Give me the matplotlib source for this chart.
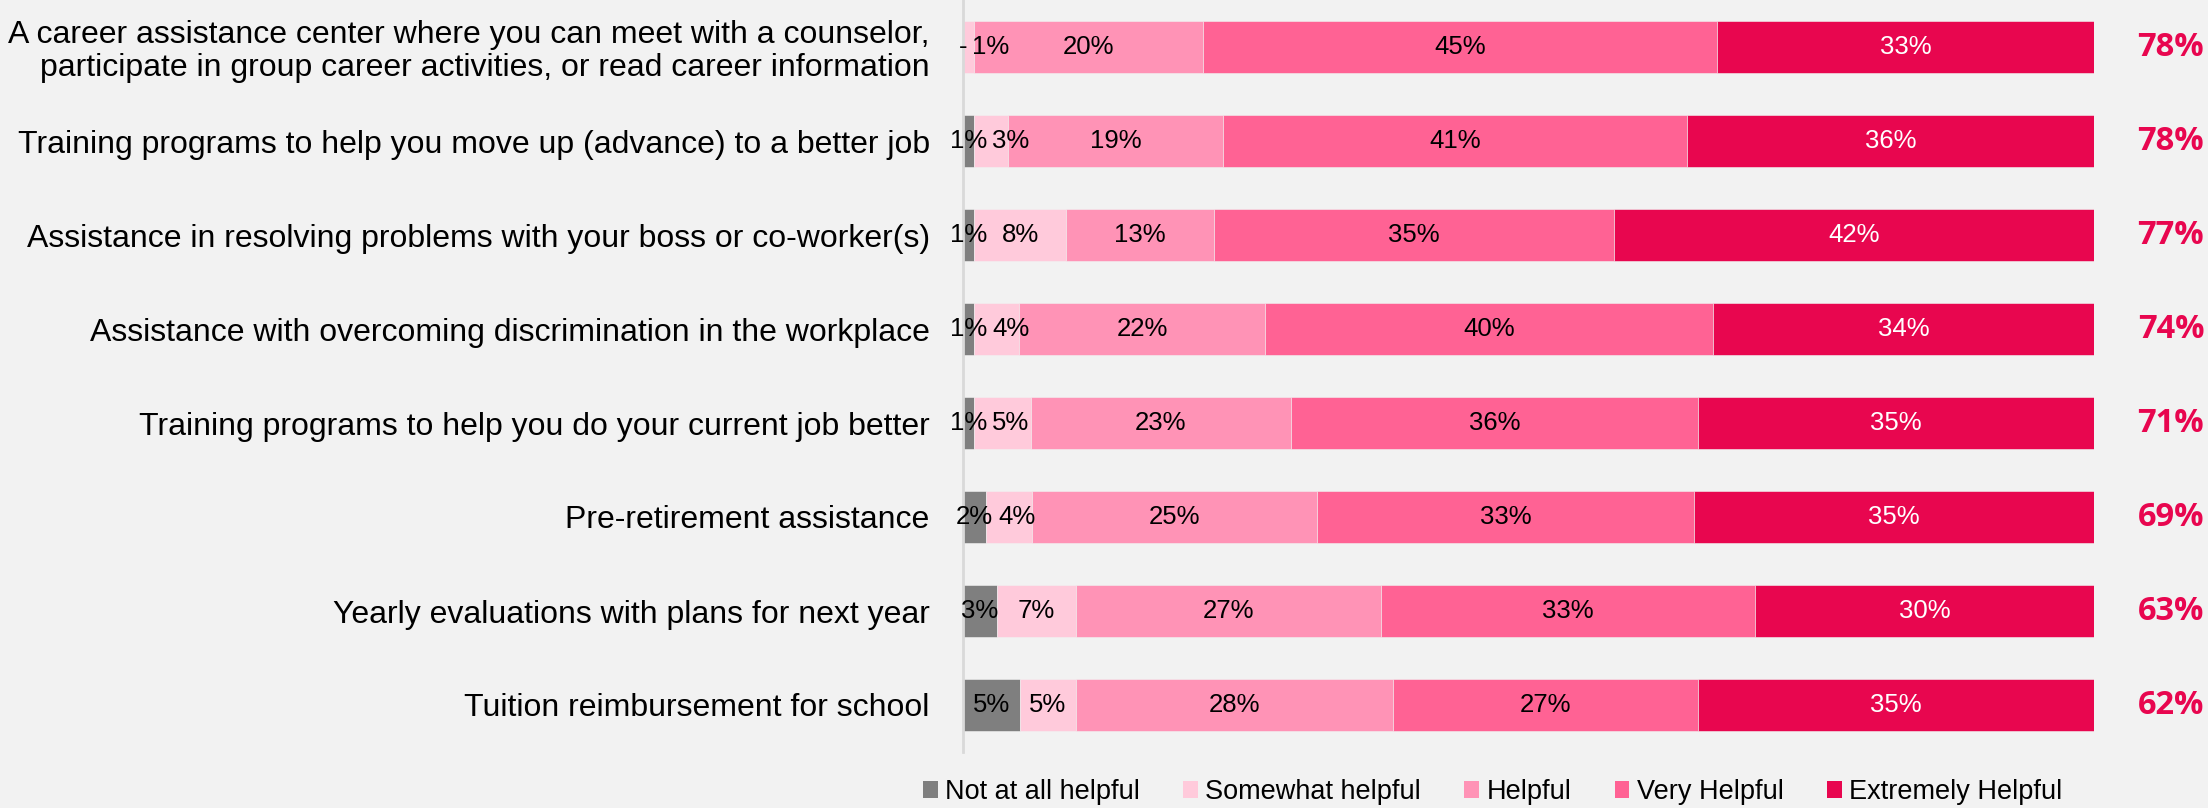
import matplotlib
matplotlib.use("Agg")
import matplotlib.pyplot as plt
from matplotlib.patches import Patch

categories = [
    "A career assistance center where you can meet with a counselor,\nparticipate in group career activities, or read career information",
    "Training programs to help you move up (advance) to a better job",
    "Assistance in resolving problems with your boss or co-worker(s)",
    "Assistance with overcoming discrimination in the workplace",
    "Training programs to help you do your current job better",
    "Pre-retirement assistance",
    "Yearly evaluations with plans for next year",
    "Tuition reimbursement for school",
]
series_names = ["Not at all helpful", "Somewhat helpful", "Helpful", "Very Helpful", "Extremely Helpful"]
not_at_all = [0, 1, 1, 1, 1, 2, 3, 5]
somewhat = [1, 3, 8, 4, 5, 4, 7, 5]
helpful = [20, 19, 13, 22, 23, 25, 27, 28]
very = [45, 41, 35, 40, 36, 33, 33, 27]
extremely = [33, 36, 42, 34, 35, 35, 30, 35]
top2_totals = [78, 78, 77, 74, 71, 69, 63, 62]

colors = ["#7F7F7F", "#FFCADB", "#FF93B6", "#FF6294", "#E8064F"]
text_colors = ["black", "black", "black", "black", "white"]
bg = "#F2F2F2"

plt.rcParams["font.family"] = ["Liberation Sans", "DejaVu Sans"]

fig = plt.figure(figsize=(22.08, 8.08), dpi=100, facecolor=bg)
ax = fig.add_axes([963 / 2208, 56 / 808, (2094 - 963) / 2208, 752 / 808])
ax.set_facecolor(bg)

series = [not_at_all, somewhat, helpful, very, extremely]
n = len(categories)
ypos = list(range(n))
bar_h = 0.553

label_sets = []
for i in range(n):
    row = [s[i] for s in series]
    total = sum(row)
    left = 0.0
    row_labels = []
    for k, v in enumerate(row):
        w = v / total
        ax.barh(ypos[i], w, left=left, height=bar_h, color=colors[k],
                edgecolor=bg, linewidth=0.4)
        txt = f"{v}%" if v > 0 else "-"
        t = ax.text(left + w / 2, ypos[i], txt, ha="center", va="center",
                    fontsize=18.5, color=text_colors[k])
        row_labels.append(t)
        left += w
    label_sets.append(row_labels)
    ax.text(1.068, ypos[i], f"{top2_totals[i]}%", ha="center", va="center",
            fontsize=23.5, fontweight="bold", color="#E8064F",
            family=["Open Sans", "DejaVu Sans"])

ax.set_xlim(0, 1)
ax.set_ylim(n - 0.5, -0.5)
ax.set_yticks(ypos)
ax.set_yticklabels(categories, fontsize=23, multialignment="right", linespacing=1.1)
ax.tick_params(axis="y", length=0, pad=24)
ax.set_xticks([])
for side in ["top", "right", "bottom"]:
    ax.spines[side].set_visible(False)
ax.spines["left"].set_color("#D9D9D9")
ax.spines["left"].set_linewidth(2)

# Push crowded segment labels to the right so they don't overlap
fig.canvas.draw()
renderer = fig.canvas.get_renderer()
inv = ax.transData.inverted()
gap = 5
for row_labels in label_sets:
    prev_right = None
    for t in row_labels:
        bb = t.get_window_extent(renderer)
        if prev_right is not None and bb.x0 < prev_right + gap:
            shift = prev_right + gap - bb.x0
            x_disp = ax.transData.transform(t.get_position())
            new = inv.transform((x_disp[0] + shift, x_disp[1]))
            t.set_position((new[0], t.get_position()[1]))
            bb = t.get_window_extent(renderer)
        prev_right = bb.x1

handles = [Patch(facecolor=c, edgecolor="none") for c in colors]
fig.legend(handles, series_names, loc="center", bbox_to_anchor=(0.676, 0.02),
           ncol=5, frameon=False, fontsize=19.5, handlelength=0.55,
           handleheight=0.6, handletextpad=0.26, columnspacing=1.6)

fig.savefig("out.png", dpi=100, facecolor=bg)
